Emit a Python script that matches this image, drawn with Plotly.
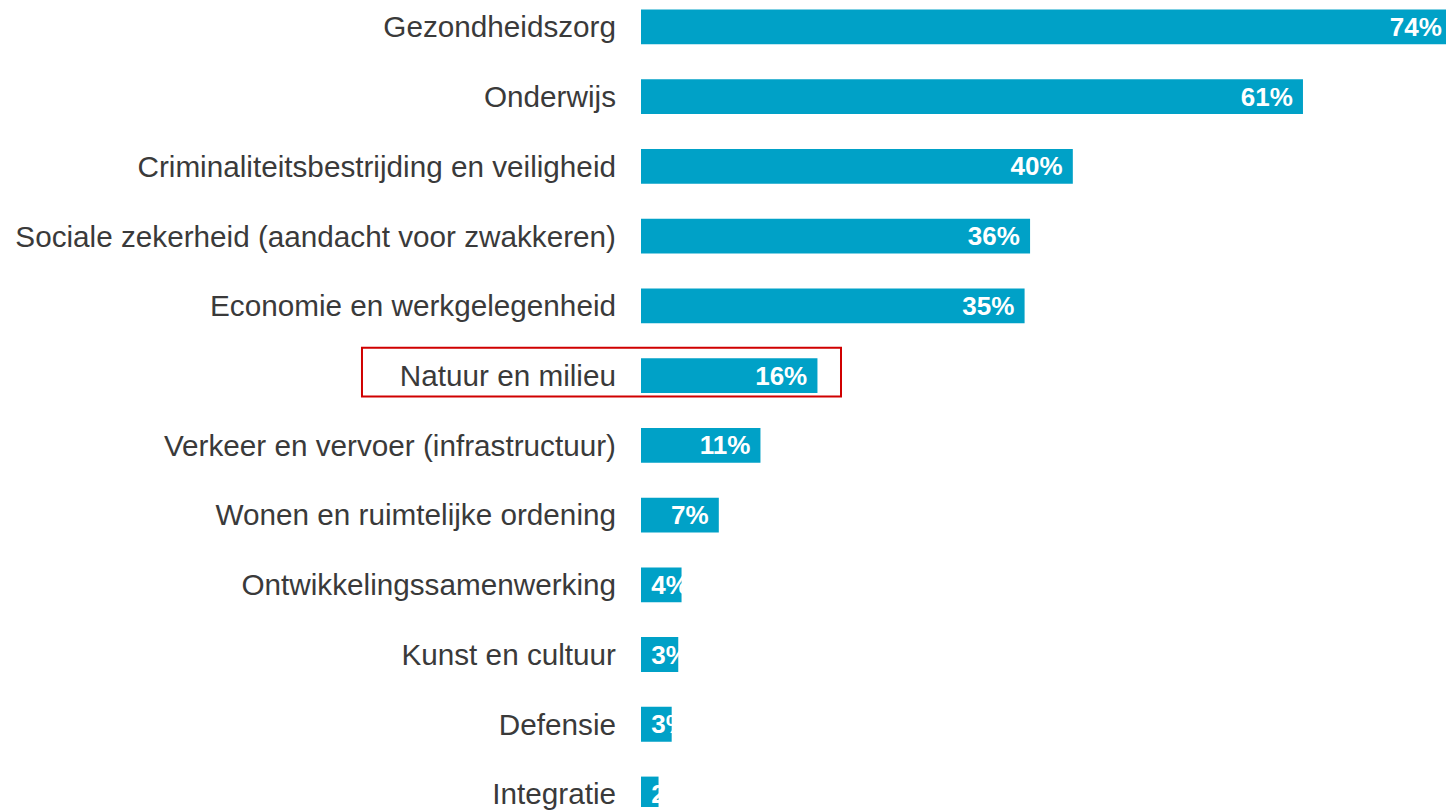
import plotly.graph_objects as go

categories = [
    "Gezondheidszorg",
    "Onderwijs",
    "Criminaliteitsbestrijding en veiligheid",
    "Sociale zekerheid (aandacht voor zwakkeren)",
    "Economie en werkgelegenheid",
    "Natuur en milieu",
    "Verkeer en vervoer (infrastructuur)",
    "Wonen en ruimtelijke ordening",
    "Ontwikkelingssamenwerking",
    "Kunst en cultuur",
    "Defensie",
    "Integratie",
]
values = [74.0, 60.4, 39.4, 35.5, 35.0, 16.1, 10.9, 7.1, 3.7, 3.4, 2.8, 1.6]
value_labels = ["74%", "61%", "40%", "36%", "35%", "16%", "11%", "7%", "4%", "3%", "3%", "2%"]
highlight = "Natuur en milieu"

BAR_COLOR = "#00A1C7"
NBSP = "\u00a0"
fits = [v >= 6 for v in values]
value_font = dict(family="Liberation Sans, Arial, sans-serif", size=26, color="white", weight="bold")

fig = go.Figure()
fig.add_trace(go.Bar(
    y=categories,
    x=[v if f else None for v, f in zip(values, fits)],
    orientation="h",
    marker=dict(color=BAR_COLOR, line=dict(width=0)),
    width=0.5,
    text=[t + NBSP if f else "" for t, f in zip(value_labels, fits)],
    textposition="inside",
    insidetextanchor="end",
    textangle=0,
    constraintext="none",
    textfont=value_font,
    hoverinfo="skip",
))
fig.add_trace(go.Bar(
    y=categories,
    x=[v if not f else None for v, f in zip(values, fits)],
    orientation="h",
    marker=dict(color=BAR_COLOR, line=dict(width=0)),
    width=0.5,
    text=[NBSP + t if not f else "" for t, f in zip(value_labels, fits)],
    textposition="inside",
    insidetextanchor="start",
    textangle=0,
    constraintext="none",
    textfont=value_font,
    hoverinfo="skip",
))

# plot area: x from 641 to 1454 px (813 px wide)
fig.add_shape(
    type="rect",
    xref="paper", yref="y",
    x0=-0.3432, x1=0.2460,
    y0=highlight, y1=highlight,
    y0shift=-0.4, y1shift=0.3,
    line=dict(color="#D00000", width=2),
    fillcolor="rgba(0,0,0,0)",
    layer="above",
)

fig.update_layout(
    width=1454, height=810,
    autosize=False,
    margin=dict(l=641, r=0, t=0, b=0),
    paper_bgcolor="white",
    plot_bgcolor="white",
    barmode="overlay",
    showlegend=False,
    font=dict(family="Liberation Sans, Arial, sans-serif"),
    xaxis=dict(visible=False, range=[0, 74.18], fixedrange=True),
    yaxis=dict(
        type="category",
        categoryorder="array",
        categoryarray=categories,
        range=[11.186, -0.386],
        showgrid=False, zeroline=False, showline=False,
        ticks="",
        ticklabelstandoff=24,
        tickfont=dict(size=29.7, color="#3A3A3A", family="Liberation Sans, Arial, sans-serif"),
        fixedrange=True,
    ),
)

fig.write_html(
    "out.html",
    config={"displayModeBar": False, "staticPlot": True},
    post_script="document.documentElement.style.overflow='hidden';"
                "document.body.style.overflow='hidden';"
                "document.body.style.margin='0';",
)
